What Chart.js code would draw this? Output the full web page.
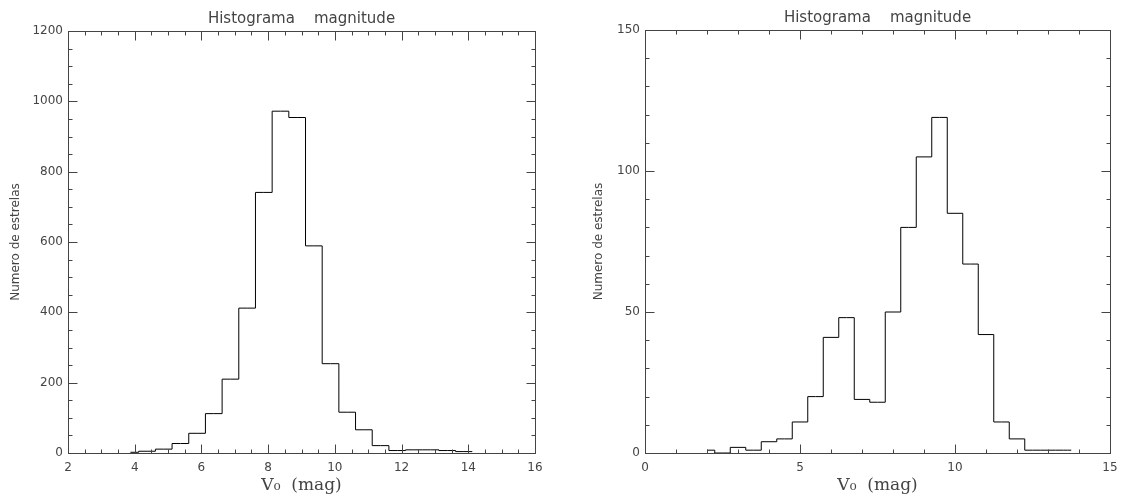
<!DOCTYPE html>
<html><head><meta charset="utf-8">
<script src="https://cdn.jsdelivr.net/npm/chart.js@4.4.1/dist/chart.umd.min.js"></script>
<style>
html,body{margin:0;background:#fff;overflow:hidden}
.wrap{position:absolute;top:0;height:495px}
#w1{left:0;width:560px} #w2{left:560px;width:561px}
</style></head><body>
<div class="wrap" id="w1"><canvas id="c1"></canvas></div>
<div class="wrap" id="w2"><canvas id="c2"></canvas></div>
<script>
// left panel: bin centres (mag) and star counts
const leftCenters=[3.87,4.37,4.87,5.37,5.87,6.37,6.87,7.37,7.87,8.37,8.87,9.37,9.87,10.37,10.87,11.37,11.87,12.37,12.87,13.37,13.87];
const leftCounts=[2,5,11,27,56,112,210,412,741,972,954,589,254,116,66,21,7,9,9,7,4];
const leftXTicks=[2,4,6,8,10,12,14,16];
const leftYTicks=[0,200,400,600,800,1000,1200];
// right panel
const rightCenters=[2.0,2.5,3.0,3.5,4.0,4.5,5.0,5.5,6.0,6.5,7.0,7.5,8.0,8.5,9.0,9.5,10.0,10.5,11.0,11.5,12.0,12.5,13.0,13.5];
const rightCounts=[1,0,2,1,4,5,11,20,41,48,19,18,50,80,105,119,85,67,42,11,5,1,1,1];
const rightXTicks=[0,5,10,15];
const rightYTicks=[0,50,100,150];
const binWidth=0.5;

const TITLE='Histograma    magnitude', XTITLE='V\u2080  (mag)', YTITLE='Numero de estrelas';
const INK='#444';

// IDL style box: ticks pointing inwards on all four sides
const idlFrame={id:'idlFrame',afterDraw(chart,args,o){
  const {ctx,chartArea:a,scales:{x,y}}=chart;
  const L=Math.round(a.left)+.5,R=Math.round(a.right)+.5,T=Math.round(a.top)+.5,B=Math.round(a.bottom)+.5;
  const isMajor=(s,v)=>s.ticks.some(t=>Math.abs(t.value-v)<1e-6);
  ctx.save(); ctx.strokeStyle=INK; ctx.lineWidth=1;
  ctx.strokeRect(L,T,R-L,B-T);
  ctx.beginPath();
  for(let i=0;;i++){ const v=x.min+i*o.xMinor; if(v>x.max+1e-9)break;
    const len=isMajor(x,v)?9:4, px=Math.round(x.getPixelForValue(v))+.5;
    ctx.moveTo(px,B); ctx.lineTo(px,B-len); ctx.moveTo(px,T); ctx.lineTo(px,T+len); }
  for(let i=0;;i++){ const v=y.min+i*o.yMinor; if(v>y.max+1e-9)break;
    const len=isMajor(y,v)?9:4, py=Math.round(y.getPixelForValue(v))+.5;
    ctx.moveTo(L,py); ctx.lineTo(L+len,py); ctx.moveTo(R,py); ctx.lineTo(R-len,py); }
  ctx.stroke(); ctx.restore();
}};

function makeHist(id,centers,counts,xt,yt,g){
  const pts=centers.map((c,i)=>({x:c,y:counts[i]}));
  pts.push({x:centers[centers.length-1]+binWidth/2,y:counts[counts.length-1]}); // last half bin
  const tickFont={family:'DejaVu Sans',size:12};
  return new Chart(document.getElementById(id),{
    type:'line',
    data:{datasets:[{data:pts,stepped:'middle',borderColor:'#000',borderWidth:1,pointRadius:0,fill:false}]},
    options:{responsive:true,maintainAspectRatio:false,animation:false,
      layout:{padding:{left:g.padLeft,right:g.padRight,top:0,bottom:0}},
      plugins:{legend:{display:false},tooltip:{enabled:false},
        title:{display:true,fullSize:false,text:TITLE,color:INK,font:{family:'DejaVu Sans',size:15,weight:'normal'},padding:{top:g.titleTop,bottom:3}},
        idlFrame:{xMinor:g.xMinor,yMinor:g.yMinor}},
      scales:{
        x:{type:'linear',min:xt[0],max:xt[xt.length-1],
          afterBuildTicks:s=>{s.ticks=xt.map(v=>({value:v}))},
          afterFit:s=>{s.height=42; s.paddingLeft=0; s.paddingRight=0},
          grid:{display:false,drawTicks:false},border:{display:false},
          ticks:{color:INK,font:tickFont,padding:8,maxRotation:0,autoSkip:false,callback:v=>String(v)},
          title:{display:true,text:XTITLE,color:INK,font:{family:'DejaVu Serif',size:17,lineHeight:1},padding:{top:0,bottom:1}}},
        y:{type:'linear',min:yt[0],max:yt[yt.length-1],
          afterBuildTicks:s=>{s.ticks=yt.map(v=>({value:v}))},
          afterFit:s=>{s.width=g.yWidth},
          grid:{display:false,drawTicks:false},border:{display:false},
          ticks:{color:INK,font:tickFont,padding:5,autoSkip:false,callback:v=>String(v)},
          title:{display:true,text:YTITLE,color:INK,font:{family:'DejaVu Sans',size:12},padding:{top:9,bottom:0}}}
      }},
    plugins:[idlFrame]
  });
}

makeHist('c1',leftCenters,leftCounts,leftXTicks,leftYTicks,{padLeft:0,padRight:25,yWidth:68,titleTop:10,xMinor:0.5,yMinor:50});
makeHist('c2',rightCenters,rightCounts,rightXTicks,rightYTicks,{padLeft:23,padRight:11,yWidth:62,titleTop:9,xMinor:1,yMinor:10});
</script>
</body></html>
